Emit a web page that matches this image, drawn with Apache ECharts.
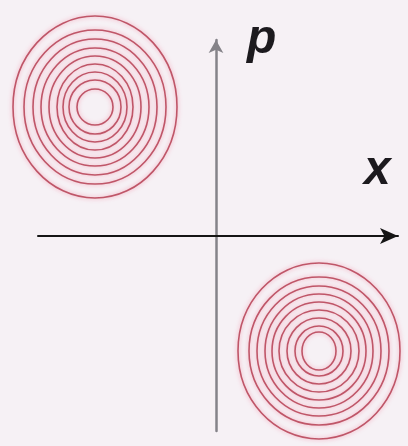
<!DOCTYPE html>
<html>
<head>
<meta charset="utf-8">
<script src="https://cdn.jsdelivr.net/npm/echarts@6/dist/echarts.min.js"></script>
<style>
  html, body { margin: 0; padding: 0; background: #f6f1f5; }
  #main { width: 408px; height: 446px; }
</style>
</head>
<body>
<div id="main"></div>
<script>
// 两组同心椭圆（单位：相对坐标原点的像素，y 向上）
const ringCenterA = [-121, 129]
const ringRxA = [82, 71, 62, 54, 46, 38, 32, 26, 18]
const ringRyA = [91, 77, 68, 59, 51, 43, 35, 27, 18]

const ringCenterB = [103, -115]
const ringRxB = [81, 70, 62, 54, 47, 40, 32, 24, 17]
const ringRyB = [88, 74, 65, 57, 49, 41, 33, 25, 19]

const axisNames = ['x', 'p']

function buildRings(center, rx, ry) {
  return rx.map((r, i) => [center[0], center[1], r, ry[i]])
}

const chart = echarts.init(document.getElementById('main'))

const option = {
  backgroundColor: '#f6f1f5',
  animation: false,
  grid: { left: 38, right: 10, top: 40, bottom: 15 },
  xAxis: {
    type: 'value',
    min: -178,
    max: 182,
    axisLine: {
      onZero: true,
      symbol: ['none', 'arrow'],
      symbolSize: [12, 18],
      lineStyle: { color: '#151515', width: 2 }
    },
    axisTick: { show: false },
    axisLabel: { show: false },
    splitLine: { show: false }
  },
  yAxis: {
    type: 'value',
    min: -195,
    max: 196,
    axisLine: {
      onZero: true,
      symbol: ['none', 'arrow'],
      symbolSize: [11, 13],
      lineStyle: { color: '#858389', width: 2.5 }
    },
    axisTick: { show: false },
    axisLabel: { show: false },
    splitLine: { show: false }
  },
  graphic: [
    {
      type: 'text',
      left: 247,
      top: 16,
      style: { text: axisNames[1], font: 'italic bold 48px "Liberation Sans", Arial', fill: '#1c1a1e' }
    },
    {
      type: 'text',
      left: 364,
      top: 147,
      style: { text: axisNames[0], font: 'italic bold 48px "Liberation Sans", Arial', fill: '#1c1a1e' }
    }
  ],
  series: [ringCenterA, ringCenterB].map((c, k) => ({
    type: 'custom',
    clip: false,
    data: k === 0 ? buildRings(ringCenterA, ringRxA, ringRyA) : buildRings(ringCenterB, ringRxB, ringRyB),
    encode: { x: 0, y: 1 },
    renderItem: function (params, api) {
      const pt = api.coord([api.value(0), api.value(1)])
      const sz = api.size([api.value(2), api.value(3)])
      return {
        type: 'ellipse',
        shape: { cx: pt[0], cy: pt[1], rx: sz[0], ry: sz[1] },
        style: { fill: null, stroke: '#bf5668', lineWidth: 1.6, shadowBlur: 4, shadowColor: 'rgba(245,120,150,0.7)' }
      }
    }
  }))
}

chart.setOption(option)
</script>
</body>
</html>
